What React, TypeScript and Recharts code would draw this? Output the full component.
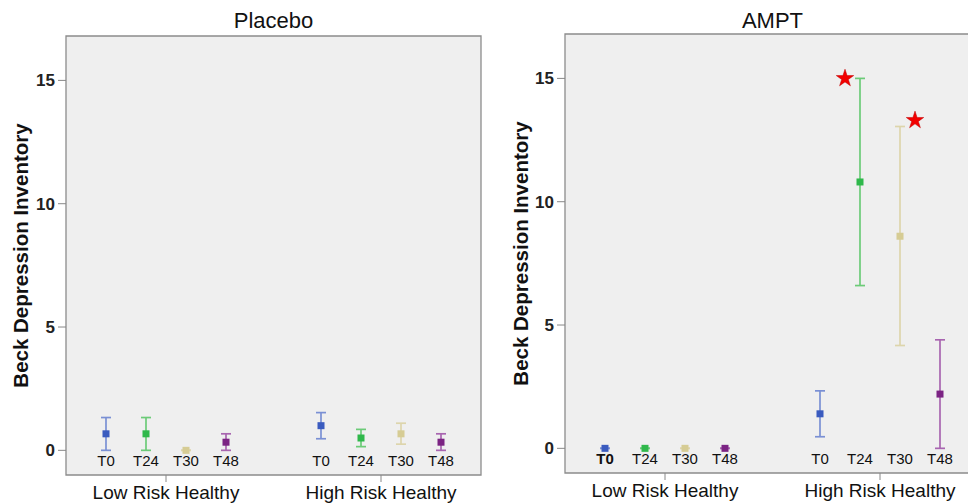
import { ScatterChart, Scatter, XAxis, YAxis, ErrorBar, ReferenceArea, Symbols } from "recharts";

const TIMES = ["T0", "T24", "T30", "T48"];
const GROUPS = ["Low Risk Healthy", "High Risk Healthy"];
const Y_TICKS = [0, 5, 10, 15];

// [time][group]
const PLACEBO_MEAN = [[0.67, 1.0], [0.67, 0.5], [0, 0.67], [0.33, 0.33]];
const PLACEBO_LOW = [[0, 0.47], [0, 0.15], [0, 0.25], [0, 0]];
const PLACEBO_HIGH = [[1.33, 1.53], [1.33, 0.85], [0, 1.1], [0.67, 0.67]];

const AMPT_MEAN = [[0, 1.4], [0, 10.8], [0, 8.6], [0, 2.2]];
const AMPT_LOW = [[0, 0.47], [0, 6.6], [0, 4.17], [0, 0]];
const AMPT_HIGH = [[0, 2.33], [0, 15], [0, 13.05], [0, 4.4]];

// significance stars (AMPT panel)
const STAR_X = [7.0, 8.75];
const STAR_Y = [15.0, 13.3];

const MARKER_COLORS = ["#3a5bbf", "#2fb84b", "#d6cc94", "#7b2383"];
const BAR_COLORS = ["#7a90d4", "#6ccb78", "#ddd5ac", "#a865b0"];

const GROUP_STEP = 5.375;
const X_MAX = 10.375;
const Y_DOMAIN = [-1, 16.8];

const xPos = (t: number, g: number) => t + 1 + g * GROUP_STEP;
const POINT_TICKS = GROUPS.flatMap((_, g) => TIMES.map((_, t) => xPos(t, g)));
const GROUP_TICKS = GROUPS.map((_, g) => 2.5 + g * GROUP_STEP);
const TICK_LABELS = [...GROUPS.flatMap(() => TIMES), ...GROUPS];

const Square = (p: any) => <rect x={p.cx - 3.5} y={p.cy - 3.5} width={7} height={7} fill={p.fill} />;
const Star = (p: any) => <Symbols type="star" size={95} cx={p.cx} cy={p.cy} fill="#f20000" stroke="#c00000" strokeWidth={0.5} />;

function makeTick(boldFirst: boolean) {
  return (p: any) => {
    const i = p.index;
    if (i < POINT_TICKS.length) {
      return (
        <text x={p.x} y={p.y - 9} textAnchor="middle" fontSize={15} fill="#111" fontWeight={boldFirst && i === 0 ? "bold" : "normal"}>
          {TICK_LABELS[i]}
        </text>
      );
    }
    return (
      <g>
        <line x1={p.x} y1={p.y} x2={p.x} y2={p.y + 7} stroke="#888" />
        <text x={p.x} y={p.y + 24} textAnchor="middle" fontSize={19} fill="#111">
          {TICK_LABELS[i]}
        </text>
      </g>
    );
  };
}

type PanelProps = {
  title: string;
  means: number[][];
  lows: number[][];
  highs: number[][];
  width: number;
  top: number;
  right: number;
  yWidth: number;
  xHeight: number;
  labelOffset: number;
  stars?: boolean;
  boldFirst?: boolean;
};

function Panel({ title, means, lows, highs, width, top, right, yWidth, xHeight, labelOffset, stars, boldFirst }: PanelProps) {
  const plotW = width - yWidth - right;
  return (
    <div style={{ position: "relative", width, height: 504, flex: "none" }}>
      <div style={{ position: "absolute", left: yWidth, width: plotW, top: 8, textAlign: "center", fontSize: 22, color: "#111" }}>{title}</div>
      <ScatterChart width={width} height={504} margin={{ top, right, bottom: 0, left: 0 }}>
        <XAxis
          type="number"
          dataKey="x"
          domain={[0, X_MAX]}
          allowDataOverflow
          ticks={[...POINT_TICKS, ...GROUP_TICKS]}
          interval={0}
          tick={makeTick(!!boldFirst)}
          tickLine={false}
          axisLine={false}
          tickSize={0}
          tickMargin={0}
          height={xHeight}
        />
        <YAxis
          type="number"
          dataKey="y"
          domain={Y_DOMAIN}
          allowDataOverflow
          ticks={Y_TICKS}
          interval={0}
          width={yWidth}
          axisLine={false}
          tickSize={8}
          tickMargin={3}
          tickLine={{ stroke: "#888" }}
          tick={{ fontSize: 17, fontWeight: "bold", fill: "#222" }}
          label={{
            value: "Beck Depression Inventory",
            angle: -90,
            position: "insideLeft",
            offset: labelOffset,
            style: { textAnchor: "middle", fontWeight: "bold", fontSize: 20.5, fill: "#111" },
          }}
        />
        <ReferenceArea x1={0} x2={X_MAX} y1={Y_DOMAIN[0]} y2={Y_DOMAIN[1]} fill="#efefef" fillOpacity={1} stroke="#8c8c8c" strokeWidth={1.3} />
        {TIMES.map((time, t) => (
          <Scatter
            key={time}
            name={time}
            data={GROUPS.map((_, g) => ({
              x: xPos(t, g),
              y: means[t][g],
              err: [means[t][g] - lows[t][g], highs[t][g] - means[t][g]],
            }))}
            fill={MARKER_COLORS[t]}
            shape={Square}
            isAnimationActive={false}
          >
            <ErrorBar dataKey="err" direction="y" width={5} stroke={BAR_COLORS[t]} strokeWidth={1.7} />
          </Scatter>
        ))}
        {stars && (
          <Scatter data={STAR_X.map((x, i) => ({ x, y: STAR_Y[i] }))} shape={Star} isAnimationActive={false} />
        )}
      </ScatterChart>
    </div>
  );
}

export default function App() {
  return (
    <div style={{ position: "absolute", left: 0, top: 0, width: 968, height: 504, overflow: "hidden", background: "#fff", display: "flex", fontFamily: "'Liberation Sans', Arial, sans-serif" }}>
      <Panel title="Placebo" means={PLACEBO_MEAN} lows={PLACEBO_LOW} highs={PLACEBO_HIGH} width={484} top={36} right={3} yWidth={66} xHeight={29} labelOffset={21} />
      <Panel title="AMPT" means={AMPT_MEAN} lows={AMPT_LOW} highs={AMPT_HIGH} width={500} top={34} right={4} yWidth={81} xHeight={31} labelOffset={37} stars boldFirst />
    </div>
  );
}
